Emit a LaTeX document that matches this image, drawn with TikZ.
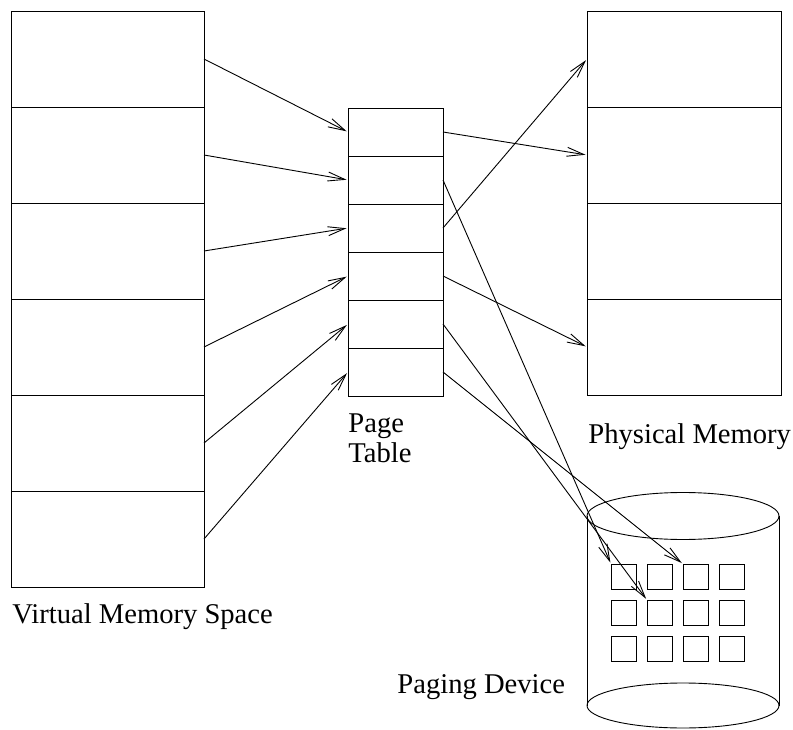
\documentclass[tikz,border=0pt]{standalone}
\usepackage{fontspec}
\setmainfont{Liberation Serif}
\usetikzlibrary{arrows.meta}
\begin{document}
\begin{tikzpicture}[x=1pt,y=-1pt,line width=0.9pt,
  cell/.style={draw,rectangle,inner sep=0,outer sep=0},
  vcell/.style={cell,minimum width=193pt,minimum height=96pt},
  pcell/.style={cell,minimum width=95pt,minimum height=48pt},
  mcell/.style={cell,minimum width=194pt,minimum height=96pt},
  dsq/.style={cell,minimum width=25pt,minimum height=25pt},
  lbl/.style={font=\fontsize{28.6}{30}\selectfont,inner sep=0},
  ptr/.style={-{Straight Barb[length=17pt,width=9pt,line width=0.9pt]},shorten >=1.5pt}]
\useasboundingbox (0,0) rectangle (793,730);
% virtual memory
\foreach \i in {1,...,6}{
  \node[vcell] (v\i) at (107.5,{59+96*(\i-1)}) {};
}
% page table
\foreach \i in {1,...,6}{
  \node[pcell] (p\i) at (395.5,{132+48*(\i-1)}) {};
}
% physical memory
\foreach \i in {1,...,4}{
  \node[mcell] (m\i) at (684,{59+96*(\i-1)}) {};
}
% paging device cylinder
\draw (683,516) ellipse [x radius=96,y radius=23.5];
\draw (683,705.5) ellipse [x radius=96,y radius=22.5];
\draw (587,516) -- (587,705.5);
\draw (779,516) -- (779,705.5);
\foreach \r in {1,2,3}{
  \foreach \c in {1,...,4}{
    \node[dsq] (d\r\c) at ({623.5+36*(\c-1)},{576.5+36*(\r-1)}) {};
  }
}
% labels
\node[lbl,anchor=north west,align=left] (ptl) at (348,413) {Page\\Table};
\node[lbl,anchor=base west] (pml) at (588,443) {Physical Memory};
\node[lbl,anchor=base west] (vml) at (12,623) {Virtual Memory Space};
\node[lbl,anchor=base west] (pdl) at (397,693) {Paging Device};
% arrows
\foreach \i in {1,...,6}{
  \draw[ptr] (v\i.east) -- (p\i.west);
}
\draw[ptr] (p1.east) -- (m2.west);
\draw[ptr] (p2.east) -- (d11.north west);
\draw[ptr] (p3.east) -- (m1.west);
\draw[ptr] (p4.east) -- (m4.west);
\draw[ptr] (p5.east) -- (d22.north west);
\draw[ptr] (p6.east) -- (d13.north west);
\end{tikzpicture}
\end{document}
